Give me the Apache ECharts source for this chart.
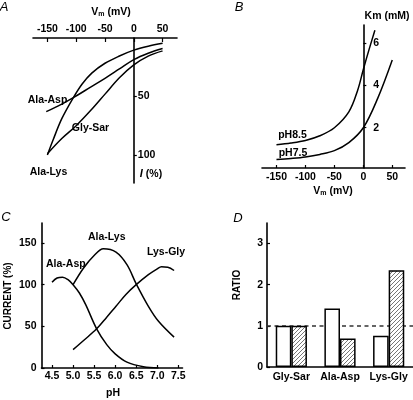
<!DOCTYPE html>
<html>
<head>
<meta charset="utf-8">
<script src="https://cdn.jsdelivr.net/npm/echarts@6/dist/echarts.min.js"></script>
<style>html,body{margin:0;padding:0;background:#fff}#c{width:413px;height:400px}</style>
</head>
<body>
<div id="c"></div>
<script>
// ---- Panel A: I (%) vs Vm (mV)
const aAlaLysV = [-150,-140,-125,-105,-90,-73,-50,-25,0,25,50];
const aAlaLysI = [100,87,69,51,39.5,30,21.6,15.4,10.4,7,4.5];
const aAlaAspV = [-152,-125,-105,-75,-50,-25,0,25,50];
const aAlaAspI = [63,56.5,51,42,34.5,26.5,18.5,13,9];
const aGlySarV = [-150,-125,-100,-73,-50,-25,0,25,50];
const aGlySarI = [99,86,75,61,48,34,23,15.5,11];
const aXTicks = [-150,-100,-50,0,50];
const aYTicks = [50,100];
// ---- Panel B: Km (mM) vs Vm (mV)
const bV85 = [-150,-125,-100,-75,-50,-25,-10,0,10,20];
const bKm85 = [1.2,1.28,1.4,1.62,2.0,2.75,3.75,4.75,5.7,6.6];
const bV75 = [-150,-125,-100,-75,-50,-25,0,25,50];
const bKm75 = [0.5,0.55,0.62,0.74,0.92,1.3,2.0,3.4,5.2];
const bXTicks = [-150,-100,-50,0,50];
const bYTicks = [2,4,6];
// ---- Panel C: CURRENT (%) vs pH
const cAlaAspPH = [4.5,4.62,4.75,4.88,5.0,5.15,5.3,5.56,5.8,6.0,6.28,6.67,7.03];
const cAlaAspI = [103,108,109,106,100,90,76,47,28,17,7,1.5,0];
const cAlaLysPH = [5.0,5.25,5.5,5.72,6.02,6.28,6.5,6.79,7.03,7.4];
const cAlaLysI = [100,120,135,143,139,124,101,74,56,37];
const cLysGlyPH = [5.0,5.25,5.56,5.8,6.02,6.25,6.5,6.79,7.0,7.1,7.25,7.4];
const cLysGlyI = [22,33,47,61,74,88,100,112,119,121.5,121,117];
const cXTicks = [4.5,5.0,5.5,6.0,6.5,7.0,7.5];
const cYTicks = [0,50,100,150];
// ---- Panel D: RATIO
const dCats = ['Gly-Sar','Ala-Asp','Lys-Gly'];
const dOpen = [1,1.42,0.76];
const dHatched = [1,0.69,2.35];
const dYTicks = [0,1,2,3];
const dRef = 1;

const FONT = '"Liberation Sans", Arial, sans-serif';
const pair = (xs, ys) => xs.map((x,i)=>[x, ys[i]]);

// hatch pattern
const pc = document.createElement('canvas');
pc.width = 4; pc.height = 4;
const g = pc.getContext('2d');
g.fillStyle = '#fff'; g.fillRect(0,0,4,4);
g.strokeStyle = '#666'; g.lineWidth = 0.9;
g.beginPath();
g.moveTo(0,4); g.lineTo(4,0);
g.moveTo(-1,1); g.lineTo(1,-1);
g.moveTo(3,5); g.lineTo(5,3);
g.stroke();

// grids
const GA = {left:33, top:38, width:144, height:145};
const GB = {left:262, top:25, width:143, height:143};
const GC = {left:41.5, top:223, width:141, height:145};
const GD = {left:267, top:223, width:146, height:144};
const aX = [-175, 75], bX = [-175, 72];
// y-axis placed at Vm = 0 (offset from grid's right edge)
const offA = -(GA.width * (aX[1]) / (aX[1]-aX[0]));
const offB = -(GB.width * (bX[1]) / (bX[1]-bX[0]));

const axLine = {show:true, onZero:false, lineStyle:{color:'#000', width:1.6}};
const lbl = (extra) => Object.assign({color:'#000', fontFamily:FONT, fontWeight:'bold', fontSize:10.5}, extra||{});
const tick = (vals, inside, len) => ({show:true, inside, length:len, customValues:vals, lineStyle:{color:'#000', width:1.2}});
const lineS = (xi, yi, data) => ({type:'line', xAxisIndex:xi, yAxisIndex:yi, data, showSymbol:false, smooth:0.35,
  lineStyle:{color:'#000', width:1.5}, silent:true, z:3});

const txt = (text, x, y, extra) => ({type:'text', x, y, rotation:(extra&&extra.rot)||0, silent:true,
  style: Object.assign({text, fill:'#000', align:'center', verticalAlign:'middle', fontFamily:FONT, fontWeight:'bold', fontSize:10.5}, (extra&&extra.style)||{})});
const vmRich = {v:{fontSize:10.5, fontWeight:'bold', fontFamily:FONT, fill:'#000'}, s:{fontSize:7, fontWeight:'bold', fontFamily:FONT, fill:'#000', padding:[5,0,0,0]}};
const italicLetter = {style:{fontStyle:'italic', fontWeight:'normal', fontSize:13}};

const option = {
  animation:false,
  backgroundColor:'#fff',
  grid:[GA, GB, GC, GD],
  xAxis:[
    {gridIndex:0, type:'value', min:aX[0], max:aX[1], position:'top',
     axisLine:axLine, splitLine:{show:false}, axisTick:tick(aXTicks,true,4),
     axisLabel:lbl({margin:3, customValues:aXTicks})},
    {gridIndex:1, type:'value', min:bX[0], max:bX[1],
     axisLine:axLine, splitLine:{show:false}, axisTick:tick(bXTicks,true,3),
     axisLabel:lbl({margin:4, customValues:bXTicks})},
    {gridIndex:2, type:'value', min:4.25, max:7.6,
     axisLine:axLine, splitLine:{show:false}, axisTick:tick(cXTicks,true,3),
     axisLabel:lbl({margin:3, customValues:cXTicks, formatter:v=>Number(v).toFixed(1)})},
    {gridIndex:3, type:'category', data:dCats,
     axisLine:axLine, axisTick:{show:false},
     axisLabel:lbl({margin:5, interval:0})}
  ],
  yAxis:[
    {gridIndex:0, type:'value', min:0, max:124, inverse:true, position:'right', offset:offA,
     axisLine:axLine, splitLine:{show:false}, axisTick:tick(aYTicks,false,3),
     axisLabel:lbl({margin:4, customValues:aYTicks})},
    {gridIndex:1, type:'value', min:0.1, max:6.85, position:'right', offset:offB,
     axisLine:axLine, splitLine:{show:false}, axisTick:tick(bYTicks,false,3),
     axisLabel:lbl({margin:10, customValues:bYTicks})},
    {gridIndex:2, type:'value', min:0, max:174,
     axisLine:axLine, splitLine:{show:false}, axisTick:tick(cYTicks,true,3),
     axisLabel:lbl({margin:5, customValues:cYTicks})},
    {gridIndex:3, type:'value', min:0, max:3.5,
     axisLine:axLine, splitLine:{show:false}, axisTick:tick(dYTicks,true,3),
     axisLabel:lbl({margin:4, customValues:dYTicks})}
  ],
  series:[
    lineS(0,0,pair(aAlaLysV,aAlaLysI)),
    lineS(0,0,pair(aAlaAspV,aAlaAspI)),
    lineS(0,0,pair(aGlySarV,aGlySarI)),
    lineS(1,1,pair(bV85,bKm85)),
    lineS(1,1,pair(bV75,bKm75)),
    lineS(2,2,pair(cAlaAspPH,cAlaAspI)),
    lineS(2,2,pair(cAlaLysPH,cAlaLysI)),
    lineS(2,2,pair(cLysGlyPH,cLysGlyI)),
    {type:'bar', xAxisIndex:3, yAxisIndex:3, data:dOpen, barWidth:15.6, barGap:'0%', silent:true, z:3,
     itemStyle:{color:'#fff', borderColor:'#000', borderWidth:1.5},
     markLine:{silent:true, symbol:'none', z:1, label:{show:false},
       lineStyle:{type:[4,3.5], color:'#333', width:1.5}, data:[{yAxis:dRef}]}},
    {type:'bar', xAxisIndex:3, yAxisIndex:3, data:dHatched, barWidth:15.6, barGap:'0%', silent:true, z:3,
     itemStyle:{color:{image:pc, repeat:'repeat'}, borderColor:'#000', borderWidth:1.5}}
  ],
  graphic:[
    txt('A', 4, 7, italicLetter),
    txt('B', 239, 7, italicLetter),
    txt('C', 6, 217, italicLetter),
    txt('D', 238, 218, italicLetter),
    txt('{v|V}{s|m}{v| (mV)}', 111, 12, {style:{rich:vmRich}}),
    {type:'text', x:151, y:174, silent:true, style:{text:'{i|I}{v| (%)}', align:'center', verticalAlign:'middle',
      rich:{i:{fontSize:11, fontStyle:'italic', fontWeight:'bold', fontFamily:FONT, fill:'#000'}, v:{fontSize:10.5, fontWeight:'bold', fontFamily:FONT, fill:'#000'}}}},
    txt('Ala-Asp', 47.5, 100),
    txt('Gly-Sar', 90.5, 128),
    txt('Ala-Lys', 48.5, 172),
    txt('Km (mM)', 387, 16),
    txt('{v|V}{s|m}{v| (mV)}', 333, 191, {style:{rich:vmRich}}),
    txt('pH8.5', 292.5, 135),
    txt('pH7.5', 293, 153),
    txt('Ala-Lys', 106.7, 237.5),
    txt('Ala-Asp', 65.8, 264.5),
    txt('Lys-Gly', 166, 252),
    txt('CURRENT (%)', 8.5, 296, {rot:Math.PI/2, style:{fontSize:10}}),
    txt('pH', 113, 393),
    txt('RATIO', 237, 285, {rot:Math.PI/2, style:{fontSize:10}})
  ]
};
const chart = echarts.init(document.getElementById('c'), null, {renderer:'canvas'});
chart.setOption(option);
</script>
</body>
</html>
